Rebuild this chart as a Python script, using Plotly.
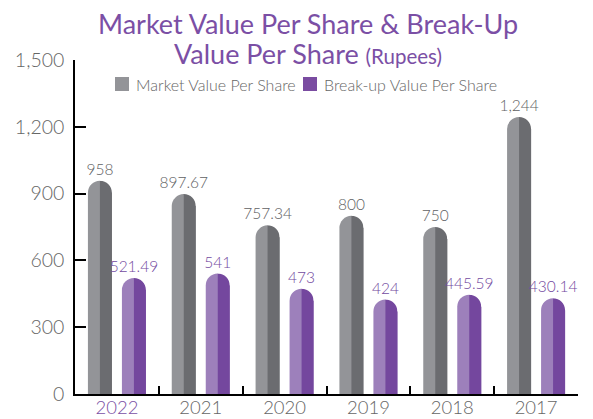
import plotly.graph_objects as go

# ---- data ----
years = ["2022", "2021", "2020", "2019", "2018", "2017"]
market_value = [958, 897.67, 757.34, 800, 750, 1244]
breakup_value = [521.49, 541, 473, 424, 445.59, 430.14]
y_ticks = [0, 300, 600, 900, 1200, 1500]
highlight_year = "2022"
legend_names = ["Market Value Per Share", "Break-up Value Per Share"]
title_lines = ["Market Value Per Share & Break-Up", "Value Per Share"]
title_unit = "(Rupees)"

# ---- style ----
W, H = 593, 419
M = dict(l=75, r=15, t=60, b=25)
PW, PH = W - M["l"] - M["r"], H - M["t"] - M["b"]
FONT = "Lato, 'Open Sans', sans-serif"
PURPLE = "#7b4fa5"
GRAY_TXT = "#666666"
cat_px = PW / len(years)
bar_px = 24.0
rad = bar_px / 2
off_px = 17.0
k = 0.5523 * rad


def px_x(p):  # page pixel -> paper x
    return (p - M["l"]) / PW


def px_y(p):  # page pixel -> paper y
    return (H - M["b"] - p) / PH


series = [
    (market_value, legend_names[0], "#939498", "#6b6c70", "#606163", -off_px),
    (breakup_value, legend_names[1], "#9d80bb", "#74479e", "#7249a0", off_px),
]

fig = go.Figure()
shapes = []
mask_path = (f"M 0,0 C {k:.2f},0 {rad:.2f},{-(rad - k):.2f} {rad:.2f},{-rad:.2f} "
             f"L {rad + 1.5:.2f},{-rad:.2f} L {rad + 1.5:.2f},1.5 L 0,1.5 Z")
for vals, name, light, dark, lab, op in series:
    c = op / cat_px
    w = bar_px / cat_px
    fig.add_bar(
        x=years, y=vals, name=name, width=w, offset=c - w / 2,
        marker=dict(color=light, cornerradius=rad, line_width=0),
        texttemplate="%{y:,}", textposition="outside", constraintext="none",
        textfont=dict(color=lab, size=15.5, family=FONT, weight=300), cliponaxis=False,
        showlegend=False,
    )
    fig.add_bar(
        x=years, y=vals, name=name, width=w / 2, offset=c,
        marker=dict(color=dark, line_width=0), showlegend=False, hoverinfo="skip",
    )
    for i, v in enumerate(vals):
        shapes.append(dict(
            type="path", xref="x", yref="y", xsizemode="pixel", ysizemode="pixel",
            xanchor=i + c, yanchor=v, path=mask_path,
            fillcolor="white", line_width=0, layer="above",
        ))

annotations = []
# title (two lines, tight spacing as in the reference)
annotations.append(dict(
    text=title_lines[0], xref="paper", yref="paper", x=px_x(308), y=px_y(23),
    xanchor="center", yanchor="middle", showarrow=False,
    font=dict(family=FONT, size=27, color=PURPLE),
))
annotations.append(dict(
    text=f'{title_lines[1]} <span style="font-size:20.5px">{title_unit}</span>',
    xref="paper", yref="paper", x=px_x(308), y=px_y(53),
    xanchor="center", yanchor="middle", showarrow=False,
    font=dict(family=FONT, size=27, color=PURPLE),
))

# legend (squares + labels)
legend_items = [(legend_names[0], "#939498", 122, 134), (legend_names[1], "#7a4ca1", 310, 322)]
for name, col, sq_x, tx_x in legend_items:
    shapes.append(dict(
        type="rect", xref="paper", yref="paper", xsizemode="pixel", ysizemode="pixel",
        xanchor=px_x(sq_x), yanchor=px_y(84), x0=-7, x1=7, y0=-7, y1=7,
        fillcolor=col, line_width=0, layer="above",
    ))
    annotations.append(dict(
        text=name, xref="paper", yref="paper", x=px_x(tx_x), y=px_y(84),
        xanchor="left", yanchor="middle", showarrow=False,
        font=dict(family=FONT, size=16, color=GRAY_TXT, weight=300),
    ))

ticktext = [f'<span style="color:{PURPLE}">{y}</span>' if y == highlight_year else y for y in years]

fig.update_layout(
    width=W, height=H, margin=M,
    paper_bgcolor="white", plot_bgcolor="white",
    barmode="overlay",
    font=dict(family=FONT, color=GRAY_TXT),
    shapes=shapes,
    annotations=annotations,
    xaxis=dict(
        type="category", range=[-0.5, len(years) - 0.5], automargin=False,
        showline=True, linecolor="black", linewidth=2,
        ticks="inside", tickson="boundaries", ticklen=8, tickwidth=1.5, tickcolor="black",
        tickmode="array", tickvals=years, ticktext=ticktext,
        tickfont=dict(size=18.5, color=GRAY_TXT, family=FONT, weight=300),
        ticklabelstandoff=-4,
        showgrid=False, zeroline=False, fixedrange=True,
    ),
    yaxis=dict(
        range=[0, 1500], automargin=False, showline=True, linecolor="black", linewidth=1.5,
        ticks="inside", ticklen=11, tickwidth=1.5, tickcolor="black",
        tickmode="array", tickvals=y_ticks, tickformat=",",
        tickfont=dict(size=19.5, color=GRAY_TXT, family=FONT, weight=300),
        ticklabelstandoff=5,
        showgrid=False, zeroline=False, fixedrange=True,
    ),
)

fig.write_html(
    "out.html",
    config={"displayModeBar": False},
    post_script="document.body.style.margin='0';document.body.style.padding='0';",
)
